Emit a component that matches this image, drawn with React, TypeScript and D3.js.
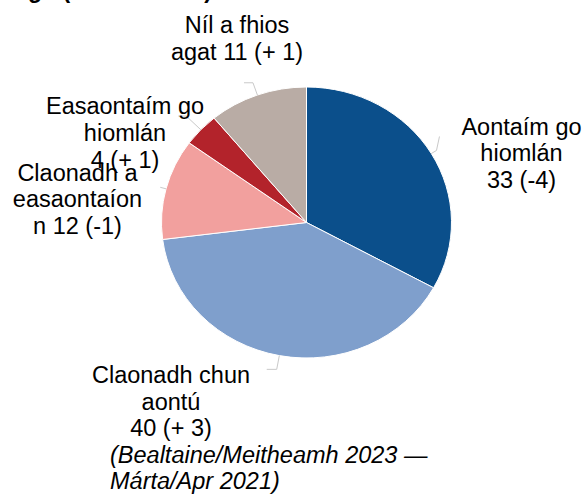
import React from "react";
import * as d3 from "d3";

const categories = [
  "Aontaím go hiomlán",
  "Claonadh chun aontú",
  "Claonadh a easaontaíon",
  "Easaontaím go hiomlán",
  "Níl a fhios agat",
];
const values = [33, 40, 12, 4, 11];
const changes = ["-4", "+ 3", "-1", "+ 1", "+ 1"];
const colors = ["#0b4f8b", "#7f9fcc", "#f2a09e", "#b3232b", "#b9aca5"];
const periodNote = ["(Bealtaine/Meitheamh 2023 —", "Márta/Apr 2021)"];
const titleText = "go (% an iomlán)";

// layout: line breaks, label anchor and first baseline
const labelLayout = [
  { lines: ["Aontaím go", "hiomlán", "{v}"], x: 521.5, y: 134.5 },
  { lines: ["Claonadh chun", "aontú", "{v}"], x: 171, y: 383 },
  { lines: ["Claonadh a", "easaontaíon", "n {v}"], x: 77.5, y: 180.7 },
  { lines: ["Easaontaím go", "hiomlán", "{v}"], x: 125, y: 114.3 },
  { lines: ["Níl a fhios", "agat {v}"], x: 237, y: 32.8 },
];
// leader: radial length beyond rim, horizontal tail, vertical tail (px)
const leaderLayout = [
  { out: 6, tail: 3, dy: -14 },
  { out: 14, tail: -10, dy: 0 },
  { out: 6, tail: 0, dy: 0 },
  { out: 20, tail: -8, dy: 0 },
  { out: 13, tail: -9, dy: 0 },
];

const W = 585;
const H = 495;
const cx = 306.5;
const cy = 222.5;
const rx = 145;
const ry = 135.5;
const FS = 23.5;
const LH = 26.7;

export default function App() {
  const pie = d3
    .pie<number>()
    .sort(null)
    .value((d) => d)
    .startAngle(0)
    .endAngle(2 * Math.PI);
  const arcs = pie(values);
  const arcGen = d3.arc<d3.PieArcDatum<number>>().innerRadius(0).outerRadius(rx);
  const sy = ry / rx;

  const font = "'Liberation Sans', Arial, Helvetica, sans-serif";

  return (
    <svg
      width={W}
      height={H}
      viewBox={`0 0 ${W} ${H}`}
      style={{ position: "absolute", left: 0, top: 0, background: "#fff" }}
      fontFamily={font}
    >
      <text x={28} y={-2} fontSize={23} fontWeight="bold" fill="#000">
        {titleText}
      </text>
      <g transform={`translate(${cx},${cy}) scale(1,${sy})`}>
        {arcs.map((a, i) => (
          <path
            key={i}
            d={arcGen(a) || ""}
            fill={colors[i]}
            stroke="#ffffff"
            strokeWidth={1}
            vectorEffect="non-scaling-stroke"
          />
        ))}
      </g>
      {arcs.map((a, i) => {
        const m = (a.startAngle + a.endAngle) / 2;
        const sx = Math.sin(m);
        const syv = -Math.cos(m);
        const p0: [number, number] = [cx + rx * sx, cy + ry * syv];
        const L = leaderLayout[i];
        const p1: [number, number] = [p0[0] + L.out * sx, p0[1] + L.out * syv];
        const p2: [number, number] = [p1[0] + L.tail, p1[1] + L.dy];
        const line = d3.line().curve(d3.curveLinear)([p0, p1, p2]);
        return (
          <path key={i} d={line || ""} fill="none" stroke="#c9c9c9" strokeWidth={1} />
        );
      })}
      {arcs.map((a, i) => {
        const lay = labelLayout[i];
        const vtxt = `${values[i]} (${changes[i]})`;
        return (
          <text
            key={i}
            x={lay.x}
            y={lay.y}
            fontSize={FS}
            textAnchor="middle"
            fill="#000"
            aria-label={`${categories[i]} ${vtxt}`}
          >
            {lay.lines.map((ln, j) => (
              <tspan key={j} x={lay.x} y={lay.y + j * LH}>
                {ln.replace("{v}", vtxt)}
              </tspan>
            ))}
          </text>
        );
      })}
      <text x={110} y={462.5} fontSize={FS} fontStyle="italic" fill="#000">
        {periodNote.map((t, j) => (
          <tspan key={j} x={110} y={462.5 + j * LH}>
            {t}
          </tspan>
        ))}
      </text>
    </svg>
  );
}
